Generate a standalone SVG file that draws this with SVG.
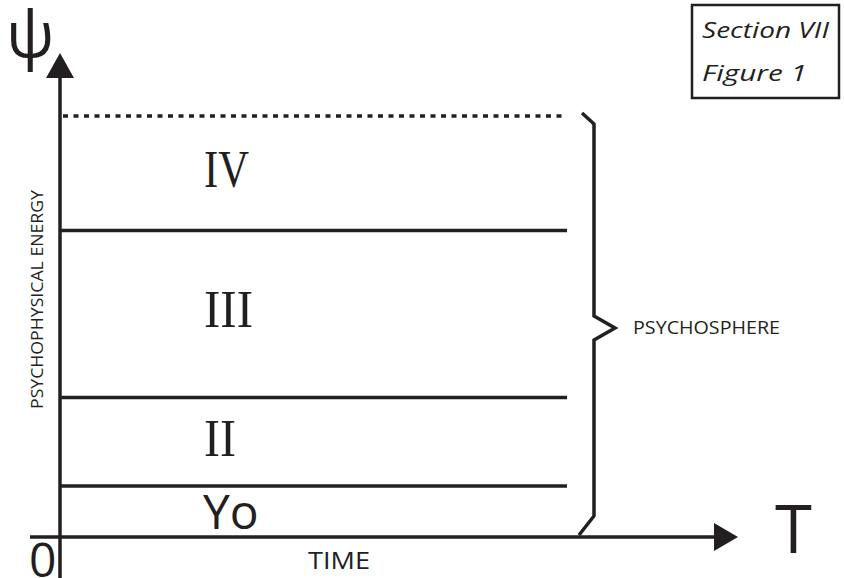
<svg xmlns="http://www.w3.org/2000/svg" width="844" height="578" viewBox="0 0 844 578">
<style>
.ln{stroke:#231f20;stroke-width:3.5;fill:none}
.sans{font-family:"Open Sans","Noto Sans","Liberation Sans",sans-serif;fill:#231f20}
.serif{font-family:"Liberation Serif","DejaVu Serif",serif;fill:#231f20}
</style>
<rect width="844" height="578" fill="#ffffff"/>
<g id="connectors">
<line class="ln" x1="60" y1="76" x2="60" y2="578"/>
<polygon points="60,53 46,78 74,78" fill="#231f20"/>
<line class="ln" x1="30" y1="537" x2="716" y2="537"/>
<polygon points="738,537 714,523 714,551" fill="#231f20"/>
<line class="ln" x1="63" y1="116" x2="567" y2="116" stroke-dasharray="5 5.5" stroke-width="4"/>
<line class="ln" x1="60" y1="230.5" x2="567" y2="230.5"/>
<line class="ln" x1="60" y1="397.5" x2="567" y2="397.5"/>
<line class="ln" x1="60" y1="486" x2="567" y2="486"/>
</g>
<g id="brace">
<polyline class="ln" stroke-linejoin="miter" points="582,113 594,124 594,316 615,328 594,340 594,516 579,535"/>
</g>
<g id="axis-labels">
<text class="sans" x="6" y="57" font-size="64">ψ</text>
<text class="sans" x="775" y="553" font-size="67">T</text>
<text class="sans" x="29" y="577" font-size="48">0</text>
<text class="sans" x="308" y="569" font-size="24" textLength="62" lengthAdjust="spacingAndGlyphs">TIME</text>
<text class="sans" transform="translate(43,299.5) rotate(-90)" text-anchor="middle" font-size="16.5" textLength="219" lengthAdjust="spacingAndGlyphs">PSYCHOPHYSICAL ENERGY</text>
<text class="sans" x="633" y="334" font-size="18.5" textLength="147" lengthAdjust="spacingAndGlyphs">PSYCHOSPHERE</text>
</g>
<g id="levels">
<text class="serif" x="204" y="187" font-size="52" textLength="45" lengthAdjust="spacingAndGlyphs">IV</text>
<text class="serif" x="204" y="327" font-size="52" textLength="49" lengthAdjust="spacingAndGlyphs">III</text>
<text class="serif" x="204" y="456" font-size="52" textLength="32" lengthAdjust="spacingAndGlyphs">II</text>
<text class="sans" x="203" y="529" font-size="48">Yo</text>
</g>
<g id="title">
<rect x="692" y="5" width="147" height="93" fill="none" stroke="#231f20" stroke-width="2.5"/>
<text class="sans" x="702" y="38" font-size="22" font-style="italic" textLength="127" lengthAdjust="spacingAndGlyphs">Section VII</text>
<text class="sans" x="702" y="81" font-size="22" font-style="italic" textLength="105" lengthAdjust="spacingAndGlyphs">Figure 1</text>
</g>
</svg>
